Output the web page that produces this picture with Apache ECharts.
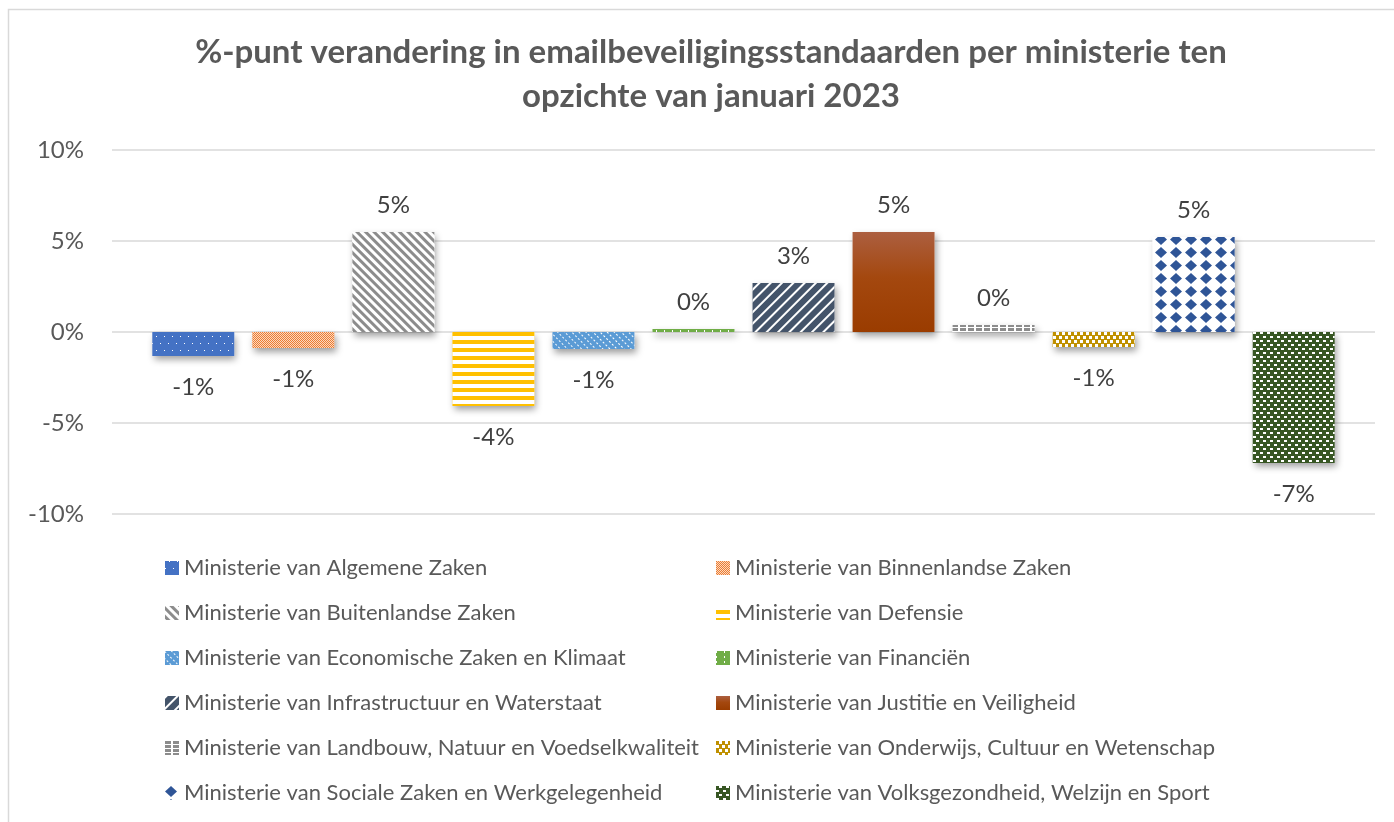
<!DOCTYPE html>
<html>
<head>
<meta charset="utf-8">
<script src="https://cdn.jsdelivr.net/npm/echarts@6/dist/echarts.min.js"></script>
<style>
  html, body { margin: 0; padding: 0; background: #ffffff; }
  #chart { width: 1394px; height: 822px; }
</style>
</head>
<body>
<div id="chart"></div>
<script>
// ---- Data ----
const titleText = '%-punt verandering in emailbeveiligingsstandaarden per ministerie ten\nopzichte van januari 2023';
const ministries = [
  'Ministerie van Algemene Zaken',
  'Ministerie van Binnenlandse Zaken',
  'Ministerie van Buitenlandse Zaken',
  'Ministerie van Defensie',
  'Ministerie van Economische Zaken en Klimaat',
  'Ministerie van Financiën',
  'Ministerie van Infrastructuur en Waterstaat',
  'Ministerie van Justitie en Veiligheid',
  'Ministerie van Landbouw, Natuur en Voedselkwaliteit',
  'Ministerie van Onderwijs, Cultuur en Wetenschap',
  'Ministerie van Sociale Zaken en Werkgelegenheid',
  'Ministerie van Volksgezondheid, Welzijn en Sport'
];
const changes = [-1.32, -0.88, 5.49, -4.07, -0.93, 0.16, 2.69, 5.49, 0.38, -0.82, 5.22, -7.2];
const yTicks = [-10, -5, 0, 5, 10];

// ---- Styles ----
const FONT = 'Lato';
const W = '#ffffff';
const styles = [
  { color: '#4472C4', decal: { symbol: 'rect', symbolSize: 1, color: W, dashArrayX: [[1, 7], [0, 4, 1, 3]], dashArrayY: [1, 6] } },
  { color: '#ED7D31', decal: { symbol: 'rect', symbolSize: 1, color: 'rgba(255,255,255,0.7)', dashArrayX: [[1, 1], [0, 1, 1, 0]], dashArrayY: [1, 0] } },
  { color: '#ffffff', decal: { symbol: 'rect', symbolSize: 1, color: '#8C8C8C', backgroundColor: W, dashArrayX: [1, 0], dashArrayY: [2.5, 2.5], rotation: Math.PI / 4 } },
  { color: '#FFC000', decal: { symbol: 'rect', symbolSize: 1, color: W, dashArrayX: [1, 0], dashArrayY: [4, 4] } },
  { color: '#5B9BD5', decal: { symbol: 'rect', symbolSize: 1, color: W, dashArrayX: [2, 2], dashArrayY: [1, 4], rotation: Math.PI / 4 } },
  { color: '#70AD47', decal: { symbol: 'rect', symbolSize: 1, color: W, dashArrayX: [1, 7], dashArrayY: [2, 3] } },
  { color: '#44546A', decal: { symbol: 'rect', symbolSize: 1, color: W, dashArrayX: [1, 0], dashArrayY: [1.5, 6], rotation: -Math.PI / 4 } },
  { color: { type: 'linear', x: 0, y: 0, x2: 0, y2: 1, colorStops: [{ offset: 0, color: '#AC5F40' }, { offset: 0.45, color: '#A4480F' }, { offset: 1, color: '#9A3C00' }] }, decal: null },
  { color: '#ffffff', decal: { symbol: 'rect', symbolSize: 1, color: '#8C8C8C', backgroundColor: W, dashArrayX: [6, 2], dashArrayY: [3, 1] } },
  { color: '#BF9000', decal: { symbol: 'rect', symbolSize: 1, color: W, dashArrayX: [[3, 3], [0, 3, 3, 0]], dashArrayY: [3, 1] } },
  { color: '#ffffff', decal: { symbol: 'diamond', symbolSize: 1, color: '#2F5597', backgroundColor: W, dashArrayX: [12, 3], dashArrayY: [11, 2] } },
  { color: '#375623', decal: { symbol: 'rect', symbolSize: 1, color: W, dashArrayX: [[3, 4], [0, 3, 3, 1]], dashArrayY: [2, 2] } }
];

// shadow layer (drawn underneath, on a hidden twin axis with identical layout)
const shadowSeries = ministries.map((name, i) => ({
  name: 'shadow-' + i,
  type: 'bar',
  xAxisIndex: 1,
  barWidth: 82,
  barGap: '22%',
  z: 1,
  silent: true,
  data: [changes[i]],
  itemStyle: {
    color: '#ffffff',
    shadowColor: 'rgba(0,0,0,0.38)',
    shadowBlur: 7,
    shadowOffsetX: 2,
    shadowOffsetY: 4
  }
}));

const mainSeries = ministries.map((name, i) => {
  const v = changes[i];
  const st = styles[i];
  const itemStyle = { color: st.color };
  if (st.decal) itemStyle.decal = st.decal;
  return {
    name: name,
    type: 'bar',
    xAxisIndex: 0,
    barWidth: 82,
    barGap: '22%',
    z: 3,
    data: [v],
    itemStyle: itemStyle,
    label: {
      show: true,
      position: v >= 0 ? 'top' : 'bottom',
      distance: v >= 0 ? 15 : 19,
      formatter: p => Math.round(p.value) + '%',
      fontFamily: FONT,
      fontSize: 24,
      color: '#404040'
    }
  };
});

const legendCommon = {
  orient: 'vertical',
  itemWidth: 14,
  itemHeight: 14,
  itemGap: 23,
  icon: 'rect',
  selectedMode: false,
  textStyle: { fontFamily: FONT, fontSize: 22, color: '#595959', lineHeight: 20 }
};

const chart = echarts.init(document.getElementById('chart'));
chart.setOption({
  backgroundColor: '#ffffff',
  animation: false,
  title: {
    text: titleText,
    left: 706,
    textAlign: 'center',
    top: 25,
    textStyle: { fontFamily: FONT, fontSize: 33, fontWeight: 'bold', color: '#595959', lineHeight: 44 }
  },
  graphic: [{
    type: 'rect',
    shape: { x: 8.5, y: 9.5, width: 1400, height: 830 },
    style: { fill: null, stroke: '#D9D9D9', lineWidth: 1.5 },
    silent: true
  }],
  legend: [
    Object.assign({}, legendCommon, { left: 160, top: 552, data: ministries.filter((_, i) => i % 2 === 0) }),
    Object.assign({}, legendCommon, { left: 711, top: 552, data: ministries.filter((_, i) => i % 2 === 1) })
  ],
  grid: { left: 112, right: 19, top: 150, height: 364 },
  xAxis: [{
    type: 'category',
    data: [''],
    axisLine: { show: false },
    axisTick: { show: false },
    axisLabel: { show: false }
  }, {
    type: 'category',
    data: [''],
    show: false
  }],
  yAxis: {
    type: 'value',
    min: yTicks[0],
    max: yTicks[yTicks.length - 1],
    interval: 5,
    axisLine: { show: false },
    axisTick: { show: false },
    splitLine: { lineStyle: { color: '#D9D9D9', width: 1.5 } },
    axisLabel: { formatter: '{value}%', fontFamily: FONT, fontSize: 24, color: '#595959', margin: 28 }
  },
  series: shadowSeries.concat(mainSeries)
});
</script>
</body>
</html>
